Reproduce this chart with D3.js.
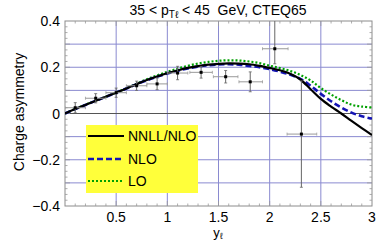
<!DOCTYPE html>
<html><head><meta charset="utf-8">
<script src="https://cdn.jsdelivr.net/npm/d3@7"></script>
<style>
html,body{margin:0;padding:0;background:#fff;}
svg{display:block;}
text{font-family:"Liberation Sans",Arial,Helvetica,sans-serif;}
</style></head>
<body><svg id="c" width="390" height="241"></svg>
<script>
// ---- data ----
const xGrid = [0,0.1,0.2,0.3,0.4,0.5,0.6,0.7,0.8,0.9,1.0,1.1,1.2,1.3,1.4,1.5,1.6,1.7,1.8,1.9,2.0,2.1,2.2,2.3,2.4,2.5,2.6,2.7,2.8,2.9,3.0];
const nnllNlo = [0,0.019,0.037,0.055,0.072,0.09,0.108,0.127,0.145,0.16,0.174,0.186,0.197,0.205,0.211,0.215,0.217,0.216,0.213,0.206,0.197,0.187,0.172,0.147,0.105,0.063,0.03,0.0,-0.032,-0.063,-0.093];
const nlo = [0,0.019,0.037,0.055,0.072,0.09,0.108,0.127,0.144,0.159,0.173,0.185,0.195,0.203,0.208,0.212,0.213,0.211,0.206,0.2,0.192,0.181,0.168,0.15,0.12,0.085,0.053,0.026,0.004,-0.012,-0.022];
const lo = [0,0.02,0.038,0.056,0.073,0.091,0.109,0.129,0.148,0.165,0.18,0.194,0.206,0.216,0.223,0.228,0.23,0.229,0.225,0.218,0.207,0.196,0.184,0.167,0.143,0.11,0.082,0.058,0.038,0.03,0.026];

const dataX = [0.1,0.3,0.5,0.7,0.9,1.1,1.33,1.57,1.81,2.05,2.31];
const dataY = [0.025,0.066,0.09,0.12,0.128,0.175,0.178,0.159,0.137,0.28,-0.089];
const dataXLo = [0,0.2,0.4,0.6,0.8,1.0,1.22,1.45,1.7,1.93,2.17];
const dataXHi = [0.2,0.4,0.6,0.8,1.0,1.2,1.44,1.69,1.93,2.18,2.46];
const dataYErrLo = [0.022,0.02,0.02,0.02,0.025,0.029,0.025,0.027,0.043,0.065,0.23];
const dataYErrHi = [0.022,0.02,0.02,0.02,0.025,0.029,0.025,0.027,0.043,0.15,0.23];

const xTicks = [0.5,1,1.5,2,2.5,3];
const xTickLabels = ["0.5","1","1.5","2","2.5","3"];
const yTicks = [0.4,0.2,0,-0.2,-0.4];
const yTickLabels = ["0.4","0.2","0","\u22120.2","\u22120.4"];
const xGridLines = [0.5,1,1.5,2,2.5];
const yGridLines = [0.3,0.2,0.1,0,-0.1,-0.2,-0.3];
const legendNames = ["NNLL/NLO","NLO","LO"];

// ---- layout ----
const L=65,R=372,T=21,B=206;
const x = d3.scaleLinear().domain([0,3]).range([L,R]);
const y = d3.scaleLinear().domain([-0.4,0.4]).range([B,T]);
const svg = d3.select("#c");

svg.append("defs").append("clipPath").attr("id","clip")
  .append("rect").attr("x",L).attr("y",T).attr("width",R-L).attr("height",B-T);

// grid
const g = svg.append("g");
g.selectAll(".vg").data(xGridLines).join("line")
  .attr("x1",d=>x(d)).attr("x2",d=>x(d)).attr("y1",T).attr("y2",B)
  .attr("stroke","#8a8ad0").attr("stroke-width",1);
g.selectAll(".hg").data(yGridLines).join("line")
  .attr("y1",d=>y(d)).attr("y2",d=>y(d)).attr("x1",L).attr("x2",R)
  .attr("stroke",d=>d===0?"#555":"#8a8ad0").attr("stroke-width",1);

// legend box
const styles = [
  {color:"#000",w:2.2,dash:null},
  {color:"#1414b4",w:2.6,dash:"6,3"},
  {color:"#00a000",w:2.2,dash:"2,2"}
];
svg.append("rect").attr("x",86).attr("y",125).attr("width",112).attr("height",68).attr("fill","#ffff3a");
const legY=[136,159,181];
legendNames.forEach((n,i)=>{
  svg.append("line").attr("x1",88).attr("x2",124).attr("y1",legY[i]).attr("y2",legY[i])
    .attr("stroke",styles[i].color).attr("stroke-width",styles[i].w)
    .attr("stroke-dasharray",styles[i].dash);
  svg.append("text").attr("x",128).attr("y",legY[i]+5).attr("font-size",14).text(n);
});

// frame & ticks
svg.append("rect").attr("x",L).attr("y",T).attr("width",R-L).attr("height",B-T)
  .attr("fill","none").attr("stroke","#8c8c8c").attr("stroke-width",1);
const xMinor = d3.range(1,30).map(i=>i/10);
const tk = svg.append("g").attr("stroke","#999").attr("stroke-width",0.8);
xMinor.forEach(v=>{
  const len = Math.abs(v*2-Math.round(v*2))<1e-6 ? 5 : 2.5;
  tk.append("line").attr("x1",x(v)).attr("x2",x(v)).attr("y1",B).attr("y2",B-len);
  tk.append("line").attr("x1",x(v)).attr("x2",x(v)).attr("y1",T).attr("y2",T+len);
});
d3.range(-15,16).map(i=>i/40).forEach(v=>{
  if(Math.abs(v)>=0.4) return;
  const major = Math.abs(v*10-Math.round(v*10))<1e-6;
  const len = major?5:2.5;
  tk.append("line").attr("y1",y(v)).attr("y2",y(v)).attr("x1",L).attr("x2",L+len);
  tk.append("line").attr("y1",y(v)).attr("y2",y(v)).attr("x1",R).attr("x2",R-len);
});

// tick labels
svg.selectAll(".xl").data(xTicks).join("text")
  .attr("x",d=>x(d)).attr("y",222).attr("text-anchor","middle").attr("font-size",14)
  .text((d,i)=>xTickLabels[i]);
svg.selectAll(".yl").data(yTicks).join("text")
  .attr("x",60).attr("y",d=>y(d)+5).attr("text-anchor","end").attr("font-size",14)
  .text((d,i)=>yTickLabels[i]);

// curves
const series=[nnllNlo,nlo,lo];
const line = d3.line().x(d=>x(d[0])).y(d=>y(d[1])).curve(d3.curveCatmullRom);
const cg = svg.append("g").attr("clip-path","url(#clip)");
[2,1,0].forEach(i=>{
  cg.append("path").attr("d",line(xGrid.map((v,j)=>[v,series[i][j]])))
    .attr("fill","none").attr("stroke",styles[i].color).attr("stroke-width",styles[i].w)
    .attr("stroke-dasharray",styles[i].dash);
});

// data points
const dg = svg.append("g").attr("clip-path","url(#clip)");
dataX.forEach((v,i)=>{
  const px=x(v), py=y(dataY[i]);
  dg.append("line").attr("x1",x(dataXLo[i])).attr("x2",x(dataXHi[i])).attr("y1",py).attr("y2",py)
    .attr("stroke","#999").attr("stroke-width",1);
  [dataXLo[i],dataXHi[i]].forEach(e=>dg.append("line").attr("x1",x(e)).attr("x2",x(e))
    .attr("y1",py-1.5).attr("y2",py+1.5).attr("stroke","#999").attr("stroke-width",0.8));
  const y1=y(dataY[i]+dataYErrHi[i]), y2=y(dataY[i]-dataYErrLo[i]);
  dg.append("line").attr("x1",px).attr("x2",px).attr("y1",y1).attr("y2",y2)
    .attr("stroke","#666").attr("stroke-width",1);
  [y1,y2].forEach(e=>dg.append("line").attr("x1",px-1.5).attr("x2",px+1.5)
    .attr("y1",e).attr("y2",e).attr("stroke","#666").attr("stroke-width",0.8));
  dg.append("rect").attr("x",px-1.5).attr("y",py-1.5).attr("width",3).attr("height",3).attr("fill","#000");
});

// title
const title = svg.append("text").attr("x",218).attr("y",15).attr("text-anchor","middle")
  .attr("font-size",14).style("white-space","pre");
title.append("tspan").text("35 < p");
title.append("tspan").attr("font-size",10).attr("dy",3).text("T\u2113");
title.append("tspan").attr("dy",-3).text(" < 45  GeV, CTEQ65");

// axis labels
const xl = svg.append("text").attr("x",218).attr("y",237).attr("text-anchor","middle").attr("font-size",13);
xl.append("tspan").text("y");
xl.append("tspan").attr("font-size",9).attr("dy",2).text("\u2113");
svg.append("text").attr("transform","translate(24,112) rotate(-90)").attr("text-anchor","middle")
  .attr("font-size",14).text("Charge asymmetry");
</script></body></html>
